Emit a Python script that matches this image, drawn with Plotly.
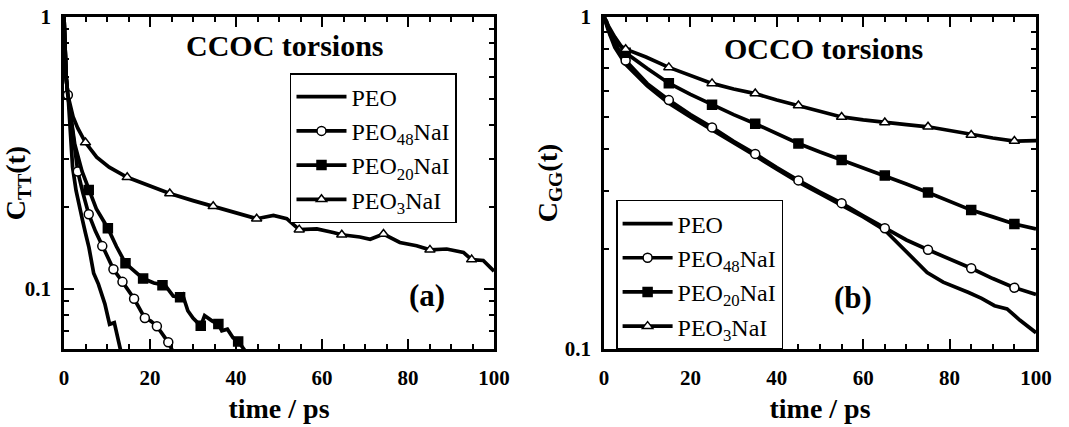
import plotly.graph_objects as go

# ---------------- data: panel (a) CCOC torsions ----------------
a_peo_t = [0, 0.2, 0.5, 1.0, 1.5, 2.0, 2.8, 3.4, 4.3, 5.0, 5.8, 6.9, 8.0, 9.5, 10.6, 11.7, 12.4, 13.2, 14.0]
a_peo_c = [1.0, 0.70, 0.60, 0.50, 0.37, 0.28, 0.23, 0.205, 0.179, 0.160, 0.142, 0.114, 0.104, 0.088, 0.074, 0.075, 0.066, 0.059, 0.055]

a_p48_t = [0, 0.2, 0.5, 0.9, 2.0, 3.2, 4.4, 5.75, 7.3, 8.9, 10.2, 11.5, 13.6, 15.0, 16.3, 18.8, 20.2, 21.6, 23.0, 24.25, 25.5]
a_p48_c = [1.0, 0.70, 0.60, 0.516, 0.37, 0.27, 0.225, 0.188, 0.163, 0.1435, 0.130, 0.118, 0.106, 0.098, 0.0918, 0.078, 0.076, 0.0728, 0.068, 0.0635, 0.058]
a_p48_mk = [0.9, 3.2, 5.75, 8.9, 11.5, 13.6, 16.3, 18.8, 21.6, 24.25]

a_p20_t = [0, 0.2, 0.5, 0.9, 2.5, 4.2, 5.75, 7.5, 10.2, 12.2, 14.3, 16.5, 18.4, 20.9, 22.9, 23.5, 25.4, 27.0, 27.6, 28.8,
           30.0, 31.8, 32.7, 34.5, 35.9, 36.7, 38.0, 39.3, 40.5, 41.2, 42.5]
a_p20_c = [1.0, 0.70, 0.60, 0.516, 0.34, 0.27, 0.231, 0.197, 0.167, 0.143, 0.124, 0.116, 0.109, 0.105, 0.103, 0.103, 0.094, 0.093, 0.095, 0.083,
           0.078, 0.073, 0.0796, 0.076, 0.0741, 0.070, 0.071, 0.066, 0.064, 0.0617, 0.058]
a_p20_mk = [5.75, 10.2, 14.3, 18.4, 22.9, 27.0, 31.8, 35.9, 40.5]

a_p3_t = [0, 0.2, 0.5, 0.9, 2.1, 3.2, 5.0, 7.6, 10.5, 14.7, 19.8, 24.6, 30.0, 34.7, 39.4, 44.8, 48.7, 51.8, 54.7, 58.8,
          62.6, 64.6, 68.8, 71.2, 74.3, 78.1, 82.0, 85.1, 89.0, 92.9, 94.8, 97.5, 100]
a_p3_c = [1.0, 0.70, 0.60, 0.516, 0.43, 0.39, 0.345, 0.305, 0.28, 0.257, 0.24, 0.224, 0.211, 0.201, 0.191, 0.181, 0.186, 0.181, 0.165, 0.166,
          0.161, 0.158, 0.155, 0.152, 0.159, 0.148, 0.144, 0.139, 0.140, 0.136, 0.128, 0.127, 0.116]
a_p3_mk = [5.0, 14.7, 24.6, 34.7, 44.8, 54.7, 64.6, 74.3, 85.1, 94.8]

# ---------------- data: panel (b) OCCO torsions ----------------
b_peo_t = [0, 1, 2.5, 5, 10, 15, 20, 25, 30, 35, 40, 45, 50, 55, 60, 65, 67.4, 71.1, 74.8, 78.5, 80.7, 84.4, 87.4, 90.4, 93.3, 96.3, 100]
b_peo_c = [1.0, 0.91, 0.81, 0.72, 0.62, 0.55, 0.50, 0.458, 0.418, 0.382, 0.348, 0.318, 0.294, 0.272, 0.25, 0.228, 0.212, 0.189, 0.170,
           0.159, 0.155, 0.148, 0.142, 0.135, 0.132, 0.122, 0.112]

b_p48_t = [0, 1, 2.5, 5, 10, 15, 20, 25, 30, 35, 40, 45, 50, 55, 60, 65, 70, 75, 80, 85, 90, 95, 100]
b_p48_c = [1.0, 0.92, 0.83, 0.74, 0.63, 0.562, 0.508, 0.465, 0.422, 0.387, 0.352, 0.322, 0.297, 0.275, 0.252, 0.231, 0.213, 0.199, 0.187,
           0.175, 0.163, 0.153, 0.146]
b_p20_t = [0, 1, 2.5, 5, 10, 15, 20, 25, 30, 35, 40, 45, 50, 55, 60, 65, 70, 75, 80, 85, 90, 95, 100]
b_p20_c = [1.0, 0.94, 0.87, 0.78, 0.70, 0.632, 0.585, 0.544, 0.508, 0.477, 0.445, 0.416, 0.392, 0.371, 0.352, 0.333, 0.314, 0.296, 0.279,
           0.262, 0.250, 0.238, 0.230]
b_p3_t = [0, 0.6, 1.5, 3.0, 5.0, 9.7, 15, 20, 25, 30, 35, 40, 45, 50, 55, 60, 65, 70, 75, 80, 85, 90, 95, 100]
b_p3_c = [1.0, 0.97, 0.88, 0.83, 0.80, 0.758, 0.705, 0.666, 0.631, 0.607, 0.588, 0.562, 0.541, 0.519, 0.50, 0.49, 0.481, 0.474, 0.467,
          0.455, 0.441, 0.432, 0.423, 0.424]
b_mk = [5, 15, 25, 35, 45, 55, 65, 75, 85, 95]

x_ticks = [0, 20, 40, 60, 80, 100]
x_minor = [5, 10, 15, 25, 30, 35, 45, 50, 55, 65, 70, 75, 85, 90, 95]
y_ticks = [0.1, 1]
y_ticktext = ["0.1", "1"]
a_y_minor = [0.06, 0.07, 0.08, 0.09, 0.2, 0.3, 0.4, 0.5, 0.6, 0.7, 0.8, 0.9]
b_y_minor = [0.2, 0.3, 0.4, 0.5, 0.6, 0.7, 0.8, 0.9]

names = ["PEO", "PEO<sub>48</sub>NaI", "PEO<sub>20</sub>NaI", "PEO<sub>3</sub>NaI"]
symbols = [None, "circle", "square", "triangle-up"]
fills = [None, "white", "black", "white"]

FONT = "Liberation Serif"
LW = 3.7
MS = 9

fig = go.Figure()


def subset(ts, cs, mk):
    xs, ys = [], []
    for m in mk:
        i = ts.index(m)
        xs.append(ts[i])
        ys.append(cs[i])
    return xs, ys


def add_series(ts, cs, mk, k, xa, ya):
    fig.add_trace(go.Scatter(x=ts, y=cs, mode="lines", line=dict(color="black", width=LW),
                             xaxis=xa, yaxis=ya, showlegend=False, hoverinfo="skip"))
    if mk is not None:
        mx, my = subset(ts, cs, mk)
        fig.add_trace(go.Scatter(x=mx, y=my, mode="markers", xaxis=xa, yaxis=ya, showlegend=False,
                                 marker=dict(symbol=symbols[k], size=MS, color=fills[k],
                                             line=dict(color="black", width=1.5))))


def add_legend(k, lg, xa, ya):
    mode = "lines" if symbols[k] is None else "lines+markers"
    mk = dict(symbol=symbols[k] or "circle", size=MS, color=fills[k] or "black",
              line=dict(color="black", width=1.5))
    fig.add_trace(go.Scatter(x=[None], y=[None], mode=mode, name=names[k], legend=lg,
                             line=dict(color="black", width=LW), marker=mk, xaxis=xa, yaxis=ya))


# panel (a)
add_series(a_peo_t, a_peo_c, None, 0, "x", "y")
add_series(a_p48_t, a_p48_c, a_p48_mk, 1, "x", "y")
add_series(a_p20_t, a_p20_c, a_p20_mk, 2, "x", "y")
add_series(a_p3_t, a_p3_c, a_p3_mk, 3, "x", "y")
# panel (b)
add_series(b_peo_t, b_peo_c, None, 0, "x2", "y2")
add_series(b_p48_t, b_p48_c, b_mk, 1, "x2", "y2")
add_series(b_p20_t, b_p20_c, b_mk, 2, "x2", "y2")
add_series(b_p3_t, b_p3_c, b_mk, 3, "x2", "y2")

for k in range(4):
    add_legend(k, "legend", "x", "y")
for k in range(4):
    add_legend(k, "legend2", "x2", "y2")

tickfont = dict(family=FONT, size=21, color="black", weight="bold")
titlefont = dict(family=FONT, size=28, color="black", weight="bold")


def xaxis(domain, anchor):
    return dict(domain=domain, anchor=anchor, range=[0, 100], showline=True, linewidth=2.5, linecolor="black",
                mirror="ticks", ticks="inside", ticklen=10, tickwidth=2, tickcolor="black",
                tickvals=x_ticks, tickfont=tickfont, ticklabelstandoff=8, automargin=False,
                minor=dict(tickvals=x_minor, ticks="inside", ticklen=5, tickwidth=1.5, tickcolor="black"),
                showgrid=False, zeroline=False,
                title=dict(text="time / ps", font=titlefont, standoff=10))


def yaxis(domain_anchor, rng, minor, title):
    return dict(domain=[0, 1], anchor=domain_anchor, type="log", range=rng, showline=True, linewidth=2.5,
                linecolor="black", mirror="ticks", ticks="inside", ticklen=10, tickwidth=2, tickcolor="black",
                tickvals=y_ticks, ticktext=y_ticktext, tickfont=tickfont, ticklabelstandoff=6, automargin=False,
                minor=dict(tickvals=minor, ticks="inside", ticklen=5, tickwidth=1.5, tickcolor="black"),
                showgrid=False, zeroline=False,
                title=dict(text=title, font=titlefont, standoff=0))


legend_style = dict(font=dict(family=FONT, size=24, color="black"), bgcolor="white",
                    bordercolor="black", borderwidth=1.5, xanchor="left", yanchor="top",
                    tracegroupgap=0, itemwidth=50)

annfont = dict(family=FONT, size=30, color="black", weight="bold")

fig.update_layout(
    width=1069, height=427,
    margin=dict(l=64, r=33, t=17, b=78, autoexpand=False),
    paper_bgcolor="white", plot_bgcolor="white",
    xaxis=xaxis([0, 0.4424], "y"),
    yaxis=yaxis("x", [-1.2218, 0], a_y_minor, "C<sub>TT</sub>(t)"),
    xaxis2=xaxis([0.5556, 1], "y2"),
    yaxis2=yaxis("x2", [-1, 0], b_y_minor, "C<sub>GG</sub>(t)"),
    legend=dict(x=0.2325, y=0.831, **legend_style),
    legend2=dict(x=0.568, y=0.449, **legend_style),
    annotations=[
        dict(text="CCOC torsions", x=0.2275, y=0.915, xref="paper", yref="paper", showarrow=False,
             xanchor="center", yanchor="middle", font=annfont),
        dict(text="(a)", x=0.3735, y=0.16, xref="paper", yref="paper", showarrow=False,
             xanchor="center", yanchor="middle", font=dict(annfont, size=31)),
        dict(text="OCCO torsions", x=0.781, y=0.906, xref="paper", yref="paper", showarrow=False,
             xanchor="center", yanchor="middle", font=annfont),
        dict(text="(b)", x=0.8117, y=0.156, xref="paper", yref="paper", showarrow=False,
             xanchor="center", yanchor="middle", font=dict(annfont, size=31)),
    ],
)

fig.write_html("out.html", config={"displayModeBar": False},
               post_script="document.body.style.margin='0';document.body.style.overflow='hidden';")
